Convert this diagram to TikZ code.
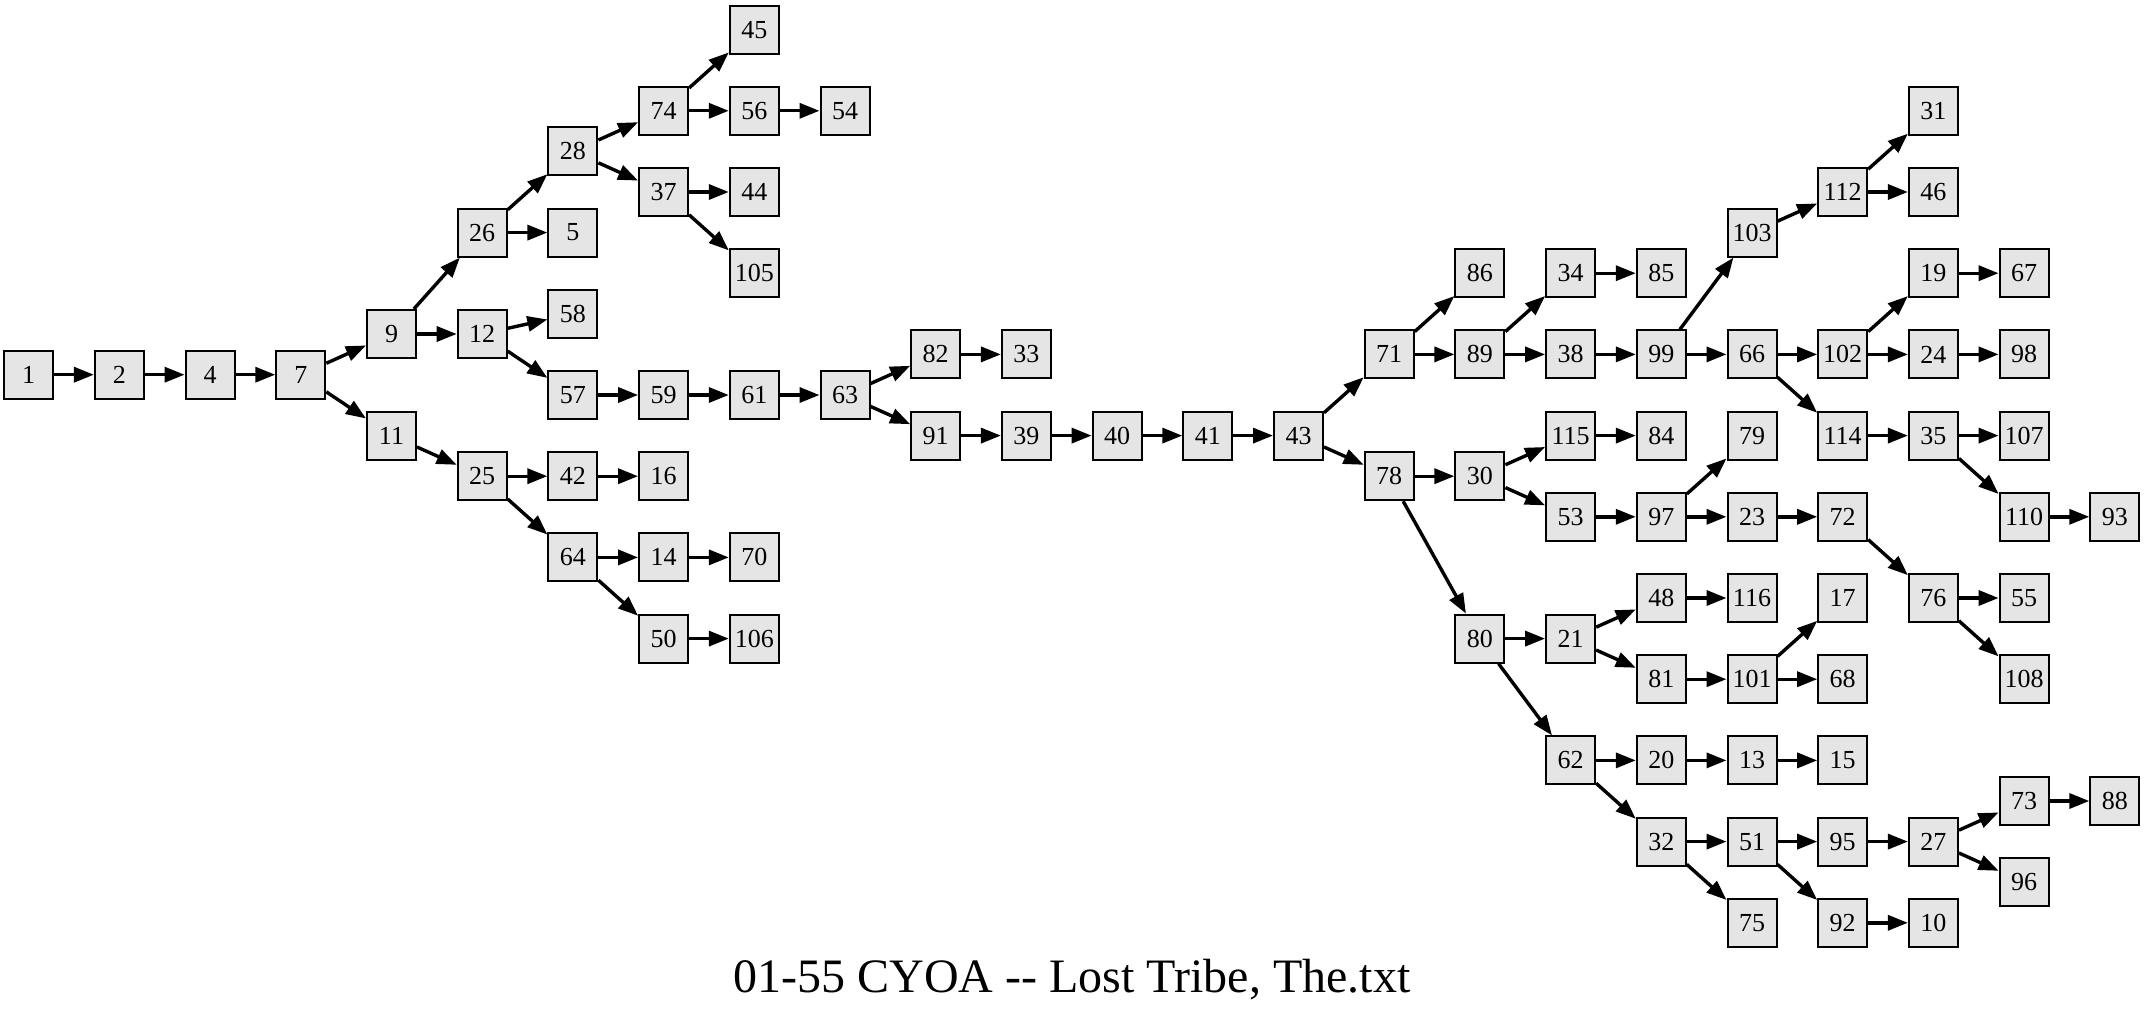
\documentclass[tikz,border=0pt]{standalone}
\usepackage{fontspec}
\setmainfont{Liberation Serif}
\usetikzlibrary{arrows.meta}
\definecolor{boxfill}{HTML}{E5E5E5}
\tikzset{
  box/.style={draw=black, fill=boxfill, line width=1pt, rectangle, inner sep=0pt,
    minimum width=24.5pt, minimum height=24pt, font=\fontsize{13}{15}\selectfont},
  edge/.style={draw=black, line width=1.7pt, -{Triangle[length=10pt,width=7.5pt]}},
  titletext/.style={anchor=base, font=\fontsize{24}{28}\selectfont}
}
\begin{document}
\begin{tikzpicture}[x=0.5pt,y=-0.5pt]
\useasboundingbox (0,0) rectangle (2144,1011);
\foreach \n/\r/\yy in {
 1/0/374.7, 2/1/374.7, 4/2/374.7, 7/3/374.7,
 9/4/334, 11/4/435.6,
 26/5/232.6, 12/5/334, 25/5/476.2,
 28/6/151.4, 5/6/232.6, 58/6/313.8, 57/6/395, 42/6/476.2, 64/6/557.4,
 74/7/110.8, 37/7/192, 59/7/395, 16/7/476.2, 14/7/557.4, 50/7/638.6,
 45/8/29.6, 56/8/110.8, 44/8/192, 105/8/273.2, 61/8/395, 70/8/557.4, 106/8/638.6,
 54/9/110.8, 63/9/395,
 82/10/354.4, 91/10/435.6,
 33/11/354.4, 39/11/435.6,
 40/12/435.6, 41/13/435.6, 43/14/435.6,
 71/15/354.4, 78/15/476.2,
 86/16/273.2, 89/16/354.4, 30/16/476.2, 80/16/638.6,
 34/17/273.2, 38/17/354.4, 115/17/435.6, 53/17/516.8, 21/17/638.6, 62/17/760.4,
 85/18/273.2, 99/18/354.4, 84/18/435.6, 97/18/516.8, 48/18/598, 81/18/679.2, 20/18/760.4, 32/18/841.6,
 103/19/232.6, 66/19/354.4, 79/19/435.6, 23/19/516.8, 116/19/598, 101/19/679.2, 13/19/760.4, 51/19/841.6, 75/19/922.8,
 112/20/192, 102/20/354.4, 114/20/435.6, 72/20/516.8, 17/20/598, 68/20/679.2, 15/20/760.4, 95/20/841.6, 92/20/922.8,
 31/21/110.8, 46/21/192, 19/21/273.2, 24/21/354.4, 35/21/435.6, 76/21/598, 27/21/841.6, 10/21/922.8,
 67/22/273.2, 98/22/354.4, 107/22/435.6, 110/22/516.8, 55/22/598, 108/22/679.2, 73/22/801, 96/22/882.2,
 93/23/516.8, 88/23/801}
 \node[box] (n\n) at ({28.7+90.7*\r},\yy) {\n};
\foreach \a/\b in {
 1/2, 2/4, 4/7, 7/9, 7/11, 9/26, 9/12, 11/25, 26/28, 26/5, 12/58, 12/57,
 25/42, 25/64, 28/74, 28/37, 57/59, 42/16, 64/14, 64/50, 74/45, 74/56,
 37/44, 37/105, 59/61, 14/70, 50/106, 56/54, 61/63, 63/82, 63/91, 82/33,
 91/39, 39/40, 40/41, 41/43, 43/71, 43/78, 71/86, 71/89, 78/30, 78/80,
 89/34, 89/38, 30/115, 30/53, 80/21, 80/62, 34/85, 38/99, 115/84, 53/97,
 21/48, 21/81, 62/20, 62/32, 99/103, 99/66, 97/79, 97/23, 48/116, 81/101,
 20/13, 32/51, 32/75, 103/112, 66/102, 66/114, 23/72, 101/17, 101/68,
 13/15, 51/95, 51/92, 112/31, 112/46, 102/19, 102/24, 114/35, 72/76,
 95/27, 92/10, 19/67, 24/98, 35/107, 35/110, 76/55, 76/108, 27/73,
 27/96, 110/93, 73/88}
 \draw[edge] (n\a) -- (n\b);
\node[titletext] (title) at (1072,992) {01-55 CYOA -{}- Lost Tribe, The.txt};
\end{tikzpicture}
\end{document}
